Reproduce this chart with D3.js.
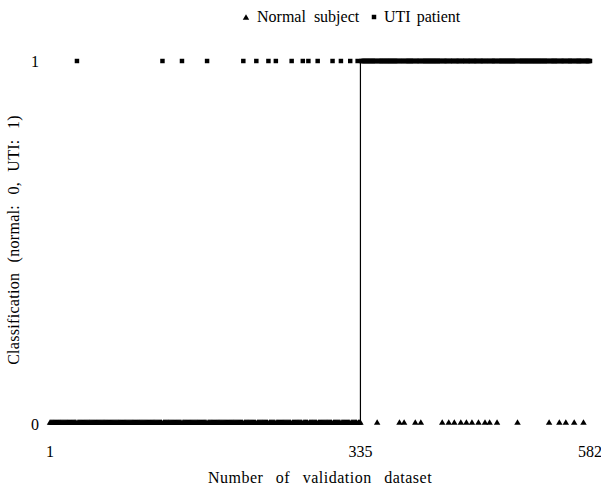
<!DOCTYPE html>
<html><head><meta charset="utf-8">
<script src="https://cdn.jsdelivr.net/npm/d3@7"></script>
<style>body{margin:0;background:#fff}svg{display:block}text{font-family:"Liberation Serif","DejaVu Serif",serif;fill:#000}</style>
</head><body><svg id="c" width="601" height="492"></svg>
<script>
const nTotal = 582;
const lastNormal = 335;
const xTickLabels = [1, 335, 582];
const yTickLabels = [0, 1];
// normal subjects (1..335) classified as UTI
const falsePositives = [30, 122, 143, 170, 209, 223, 236, 244, 261, 273, 279, 289, 305, 314, 324, 332];
// UTI patients (336..582) classified as normal
const falseNegatives = [353, 377, 382, 394, 400, 423, 430, 436, 443, 449, 455, 462, 469, 474, 482, 504, 538, 549, 556, 565, 575];
const actualStep = [[1, 0], [lastNormal, 0], [lastNormal, 1], [nTotal, 1]];

const svg = d3.select("#c");
const x = d3.scaleLinear().domain([1, nTotal]).range([50, 590]);
const y = d3.scaleLinear().domain([0, 1]).range([424, 61]);

const points = d3.range(1, nTotal + 1).map(i => {
  const actual = i <= lastNormal ? 0 : 1;
  let pred = actual;
  if (falsePositives.includes(i)) pred = 1;
  if (falseNegatives.includes(i)) pred = 0;
  return {i, pred};
});

// step line
svg.append("path").datum(actualStep)
  .attr("d", d3.line().x(d => x(d[0])).y(d => y(d[1])))
  .attr("fill", "none").attr("stroke", "#000").attr("stroke-width", 1.2);

const tri = d3.symbol().type(d3.symbolTriangle).size(18);
const sq = d3.symbol().type(d3.symbolSquare).size(20);
svg.append("g").selectAll("path").data(points).join("path")
  .attr("transform", d => `translate(${x(d.i)},${y(d.pred) + (d.pred === 0 ? -1 : 0)})`)
  .attr("d", d => d.pred === 0 ? tri() : sq())
  .attr("fill", "#000");

// y ticks
svg.append("g").selectAll("text").data(yTickLabels).join("text")
  .attr("x", 39).attr("y", d => y(d)).attr("dy", "0.35em")
  .attr("text-anchor", "end").attr("font-size", 16).text(d => d);
// x ticks
svg.append("g").selectAll("text").data(xTickLabels).join("text")
  .attr("x", d => x(d)).attr("y", 457)
  .attr("text-anchor", "middle").attr("font-size", 16).text(d => d);

svg.append("text").attr("x", 320).attr("y", 483).attr("text-anchor", "middle")
  .attr("font-size", 16).attr("word-spacing", 8).attr("letter-spacing", 0.5).text("Number of validation dataset");
svg.append("text").attr("transform", "translate(19,240) rotate(-90)").attr("text-anchor", "middle")
  .attr("font-size", 16).attr("word-spacing", 6).attr("letter-spacing", 0.3).text("Classification (normal: 0, UTI: 1)");

// legend
const lg = svg.append("g");
lg.append("path").attr("transform", "translate(246,18)").attr("d", tri()).attr("fill", "#000");
lg.append("text").attr("x", 257).attr("y", 22).attr("font-size", 16).attr("word-spacing", 4).text("Normal subject");
lg.append("path").attr("transform", "translate(374,17)").attr("d", sq()).attr("fill", "#000");
lg.append("text").attr("x", 384).attr("y", 22).attr("font-size", 16).attr("word-spacing", 2).text("UTI patient");
</script></body></html>
